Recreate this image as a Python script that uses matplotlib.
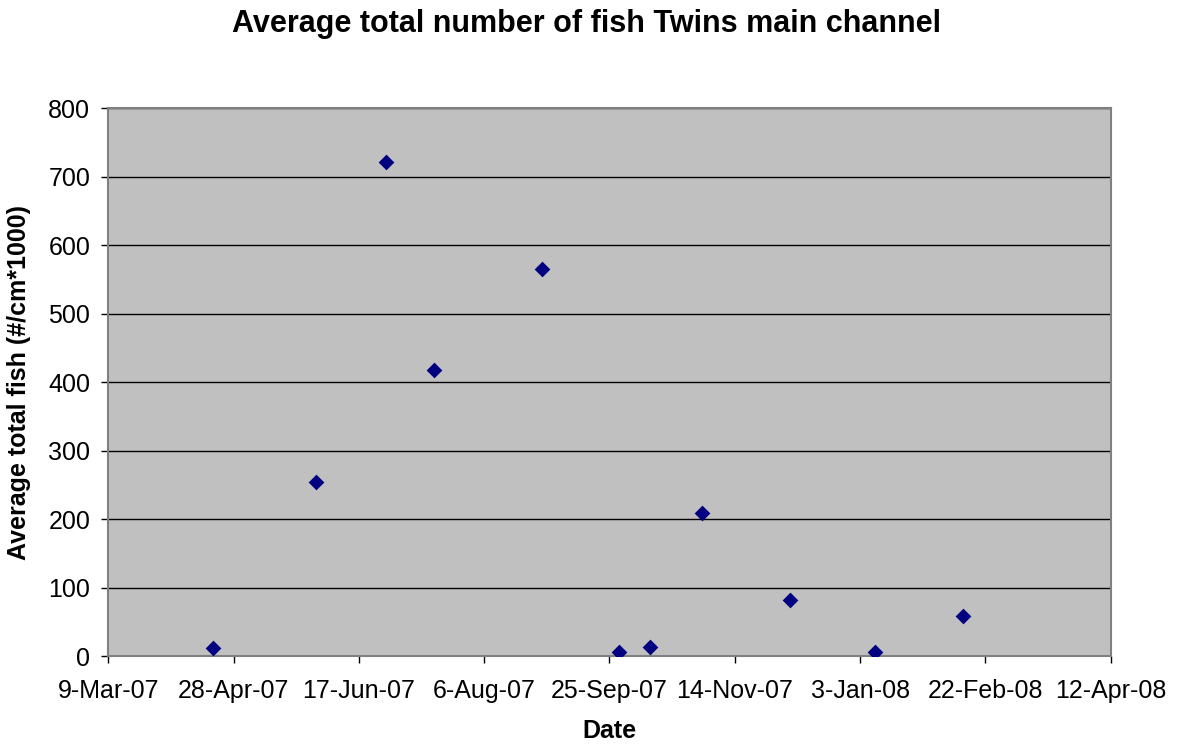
import datetime as dt
import matplotlib
matplotlib.use("Agg")
import matplotlib.pyplot as plt
import matplotlib.dates as mdates
from matplotlib.ticker import FixedLocator, FuncFormatter

plt.rcParams['font.family'] = ['Liberation Sans', 'DejaVu Sans']

# Sampling dates and average total fish counts (#/cm*1000)
dates = [
    "2007-04-20", "2007-05-31", "2007-06-28", "2007-07-17", "2007-08-29",
    "2007-09-29", "2007-10-11", "2007-11-01", "2007-12-06", "2008-01-09",
    "2008-02-13",
]
fish = [12, 254, 722, 418, 566, 6, 13, 209, 82, 7, 59]

axis_start = dt.date(2007, 3, 9)
axis_end = dt.date(2008, 4, 12)
tick_step_days = 50

x = [mdates.date2num(dt.date.fromisoformat(d)) for d in dates]

fig = plt.figure(figsize=(11.77, 7.49), dpi=100)
W, H = 1177, 749
left, right, top, bottom = 108.2, 1110.7, 108.2, 656.4
ax = fig.add_axes([left / W, 1 - bottom / H, (right - left) / W, (bottom - top) / H])

ax.set_facecolor('#C0C0C0')
ax.scatter(x, fish, marker='D', s=64, color='#000080', zorder=3, linewidths=0)

x0 = mdates.date2num(axis_start)
x1 = mdates.date2num(axis_end)
ax.set_xlim(x0, x1)
ax.set_ylim(0, 800)

xticks = [x0 + tick_step_days * k for k in range(int((x1 - x0) // tick_step_days) + 1)]
ax.xaxis.set_major_locator(FixedLocator(xticks))


def fmt_date(v, pos=None):
    d = mdates.num2date(v)
    return f"{d.day}-{d:%b-%y}"


ax.xaxis.set_major_formatter(FuncFormatter(fmt_date))
ax.set_yticks(range(0, 801, 100))

ax.grid(axis='y', color='black', linewidth=1)
ax.set_axisbelow(True)
for s in ax.spines.values():
    s.set_color('#808080')
    s.set_linewidth(1.5)

ax.tick_params(axis='both', direction='out', length=5, width=1, color='black',
               labelsize=18, labelcolor='black')
ax.tick_params(axis='x', pad=11)
ax.tick_params(axis='y', pad=8)

ax.set_xlabel('Date', fontsize=18, fontweight='bold', labelpad=12)
ax.set_ylabel('Average total fish (#/cm*1000)', fontsize=18, fontweight='bold', labelpad=12)
fig.text(586 / W, 1 - 24 / H, 'Average total number of fish Twins main channel',
         ha='center', va='center', fontsize=22, fontweight='bold')

fig.savefig('out.png', dpi=100)
